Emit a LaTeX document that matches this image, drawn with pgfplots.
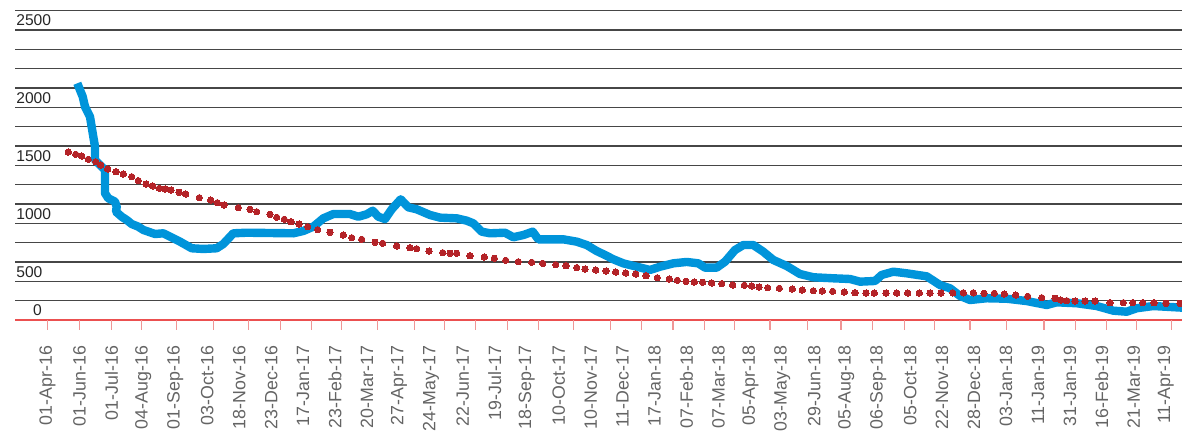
\documentclass[border=0pt]{standalone}
\usepackage{fontspec}
\setmainfont{Liberation Sans}
\usepackage{pgfplots}
\pgfplotsset{compat=1.18}
\definecolor{lineblue}{RGB}{0,148,218}
\definecolor{dotred}{RGB}{180,35,40}
\definecolor{gridgray}{RGB}{70,70,70}
\definecolor{axisred}{RGB}{235,80,80}
\definecolor{tickred}{RGB}{240,150,150}
\definecolor{labelgray}{RGB}{100,100,100}
\begin{document}
\begin{tikzpicture}
\begin{axis}[
  scale only axis, width=583.5pt, height=160pt,
  xmin=15, xmax=1182, ymin=166.67, ymax=2925.4,
  axis x line*=bottom, axis y line*=left,
  x axis line style={draw=axisred, line width=0.6pt, -},
  y axis line style={draw=none},
  major tick length=0pt,
  xtick={47.5,79.45,...,1166},
  xticklabels={01-Apr-16,01-Jun-16,01-Jul-16,04-Aug-16,01-Sep-16,03-Oct-16,18-Nov-16,23-Dec-16,17-Jan-17,23-Feb-17,20-Mar-17,27-Apr-17,24-May-17,22-Jun-17,19-Jul-17,18-Sep-17,10-Oct-17,10-Nov-17,11-Dec-17,17-Jan-18,07-Feb-18,07-Mar-18,05-Apr-18,03-May-18,29-Jun-18,05-Aug-18,06-Sep-18,05-Oct-18,22-Nov-18,28-Dec-18,03-Jan-18,11-Jan-19,31-Jan-19,16-Feb-19,21-Mar-19,11-Apr-19},
  xticklabel style={rotate=90, anchor=east, inner sep=0pt, font=\fontsize{8.9}{10}\selectfont, text=labelgray},
  xticklabel shift=12.8pt,
  extra x ticks={47.8,79.2,111.4,141.6,176.8,213.6,248.8,280.1,311.8,341.8,377.7,414.4,444.3,475.7,507.6,538.1,573.3,610.3,641.4,672.9,704.8,734.7,770,807.6,841,872.5,904.2,934.3,970,1006.8,1044,1075.1,1106.7,1136.7,1171.4},
  extra x tick labels={},
  extra x tick style={major tick length=5pt, tick align=outside, xtick style={draw=tickred, line width=0.6pt}},
  ytick={333.33,500,666.67,833.33,1000,1166.67,1333.33,1500,1666.67,1833.33,2000,2166.67,2333.33,2500,2666.67,2833.33},
  yticklabels={,500,,,1000,,,1500,,,2000,,,,2500,},
  yticklabel style={anchor=south west, inner sep=0pt, xshift=0.5pt, yshift=1.8pt, font=\fontsize{7.8}{9}\selectfont, text=black!85},
  ymajorgrids, grid style={draw=gridgray, line width=0.65pt},
  extra y ticks={166.67}, extra y tick labels={\hspace*{8.4pt}0}, extra y tick style={grid=none},
]
\addplot[color=lineblue, line width=4.2pt, line join=round] coordinates {
(77.3,2207) (82.7,2092) (85,2006) (90,1919) (93.3,1747) (95,1661) (95,1546) (100,1503)
(105,1460) (105,1259) (108.3,1216) (115,1187) (116.7,1143) (116,1100) (121.7,1057)
(126.7,1029) (131.7,994) (138.3,971) (143.3,943) (155,908) (163.3,914) (170,885)
(180,842) (191.7,785) (203.3,779) (216.7,785) (223.3,822) (233.3,914) (246.7,919)
(293.3,914) (303.3,934) (313.3,971) (323.3,1043) (333.3,1080) (350,1080) (358.3,1057)
(366.7,1078) (372.7,1109) (378.3,1057) (385,1037) (391.7,1121) (400.7,1207) (408.3,1138)
(416.7,1121) (430,1072) (440,1049) (456.7,1043) (466.7,1023) (473.3,1000) (481.7,928)
(490,914) (505,919) (513.3,880) (523.3,899) (532.7,928) (538.3,862) (563.3,862)
(576.7,842) (586.7,813) (596.7,761) (605,727) (613.3,690) (623.3,655) (636.7,626)
(650,598) (660,626) (673.3,655) (686.7,667) (698.3,655) (705,618) (716.7,618)
(725,669) (735,770) (743.3,813) (753.3,813) (763.3,755) (773.3,684) (786.7,632)
(800,563) (813.3,535) (833.3,526) (850,520) (860,497) (875,503) (881.7,555)
(893.3,583) (906.7,569) (926.7,543) (940,468) (950,440) (960,374) (970,339)
(986.7,354) (1006.7,350) (1026.7,330) (1046.7,296) (1056.7,319) (1076.7,311)
(1096.7,287) (1113.3,247) (1126.7,238) (1136.7,268) (1153.3,287) (1182,273)
};
\addplot[color=dotred, only marks, mark=*, mark size=1.6pt, mark options={fill=dotred, draw=dotred, line width=0pt}] coordinates {
(68.3,1615) (75.7,1595) (81.7,1580) (88.3,1552) (95.7,1531) (100.7,1503) (107.7,1468)
(116,1445) (123.3,1425) (131.7,1402) (138.3,1368) (146,1339) (152.7,1322) (159.3,1302)
(165,1296) (171,1287) (179,1268) (185.7,1253) (199.3,1221) (210.7,1201) (217.3,1178)
(224,1158) (238.3,1135) (250,1121) (256.7,1100) (270,1078) (276.7,1052) (284.3,1035)
(291,1014) (299,994) (307.7,971) (317.7,945) (330,923) (343.3,899) (351.7,876)
(361.7,862) (375,837) (382.7,828) (396.7,805) (410,790) (416.7,781) (429,761)
(442.7,747) (450,742) (456.7,742) (470,721) (484.3,710) (494.3,699) (505.7,681)
(518.3,669) (531.7,664) (542.7,655) (555.7,643) (566,635) (576.7,618) (585,606)
(595.7,598) (606,589) (615.7,580) (625.7,572) (635.7,563) (646,549) (657.3,531)
(669.3,520) (677.3,509) (686,500) (694.3,494) (702.7,492) (711.7,486) (721.7,480)
(732.7,468) (744.3,466) (751.7,460) (759,451) (767.7,445) (779.3,440) (792.3,434)
(802.3,425) (813.3,419) (822.3,417) (832.7,414) (844.3,408) (855,402) (866,399)
(874.3,399) (886,399) (896.7,399) (907.7,399) (919.3,399) (930,399) (941,399)
(952.7,401) (963.3,401) (973.3,401) (984,397) (994.3,397) (1004.3,391) (1015.7,382)
(1027.7,371) (1041.7,359) (1055,354) (1060.7,339) (1066.7,333) (1075,330) (1085,330)
(1095,330) (1110,316) (1123.3,316) (1132.7,316) (1142.7,316) (1154,316) (1166,311)
(1180,311)
};
\coordinate (BL) at (axis cs:0,-790.3);
\coordinate (TR) at (axis cs:1182,2925.4);
\end{axis}
\pgfresetboundingbox
\path[use as bounding box] (BL) rectangle (TR);
\end{tikzpicture}
\end{document}
